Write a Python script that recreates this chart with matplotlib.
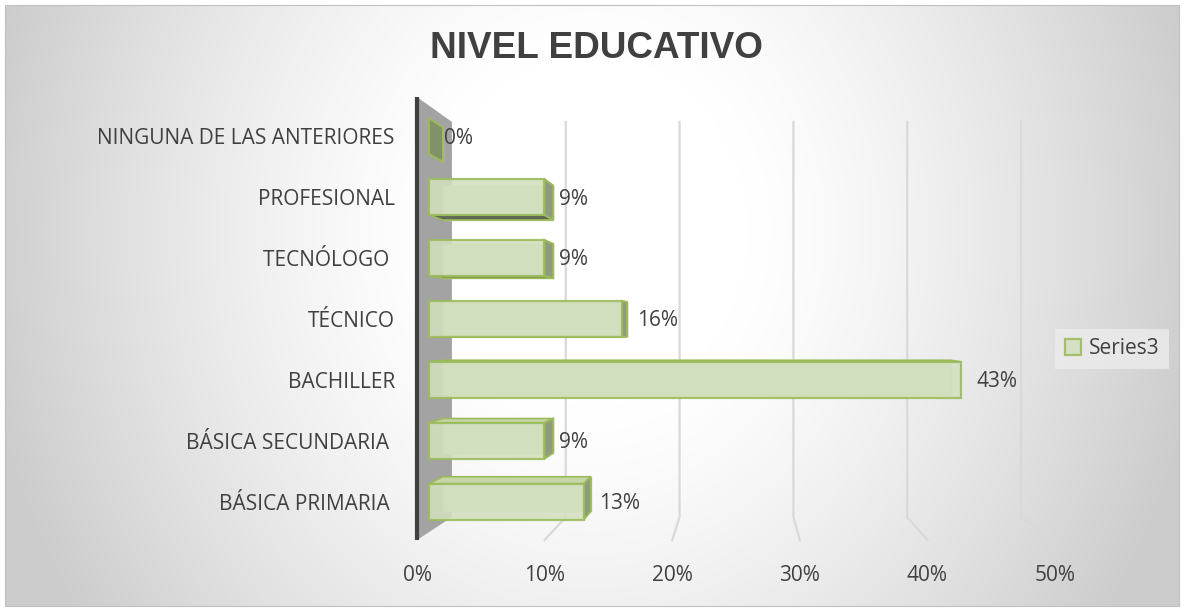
import numpy as np
import matplotlib
matplotlib.use("Agg")
import matplotlib.pyplot as plt
from matplotlib.patches import Polygon, Rectangle

plt.rcParams["font.family"] = ["Open Sans", "DejaVu Sans"]

# data (bottom -> top, as Excel draws a bar chart); bar lengths
categories = ["BÁSICA PRIMARIA ", "BÁSICA SECUNDARIA ", "BACHILLER", "TÉCNICO",
              "TECNÓLOGO ", "PROFESIONAL", "NINGUNA DE LAS ANTERIORES"]
values = [12.6, 9.4, 43.3, 15.7, 9.4, 9.4, 0]
value_labels = ["13%", "9%", "43%", "16%", "9%", "9%", "0%"]
xticks = [0, 10, 20, 30, 40, 50]
series_name = "Series3"
title = "NIVEL EDUCATIVO"

# fake 3D: perspective toward a vanishing point, s = depth fraction
VPX, VPY = 25.35, 3.35
S_F, S_B, S_WALL = 0.037, 0.080, 0.108
BAR_H = 0.59
TXT = "#404040"
GREEN = "#9bbb59"
FS = 15


def P(v, y, s):
    return (v + (VPX - v) * s, y + (VPY - y) * s)


W, H = 1184, 611
fig = plt.figure(figsize=(W / 100, H / 100), dpi=100)

# radial grey background
bg = fig.add_axes([0, 0, 1, 1])
yy, xx = np.mgrid[0:H, 0:W]
r = np.hypot((xx - 592) / 620, (yy - 230) / 700)
t = np.clip((r - 0.25) / 0.75, 0, 1)
c = 1 - 0.2 * t ** 1.3
c[(xx < 5) | (xx > 1179) | (yy < 5) | (yy > 606)] = 1
bg.imshow(np.dstack([c, c, c]), extent=(0, W, H, 0), aspect="auto")
bg.add_patch(Rectangle((5, 5), 1174, 601, fill=False, ec="#c0c0c0", lw=0.8))
bg.set_xlim(0, W); bg.set_ylim(H, 0); bg.axis("off")

ax = fig.add_axes([417 / W, 71 / H, 638 / W, 443 / H])
ax.set_xlim(0, 50); ax.set_ylim(0, 7)
ax.patch.set_alpha(0)
for sp in ax.spines.values():
    sp.set_visible(False)

# gridlines on back wall + floor
for v in xticks[1:]:
    pts = [P(v, 7, S_WALL), P(v, 0, S_WALL), P(v, 0, 0)]
    ax.plot([p[0] for p in pts], [p[1] for p in pts], color="#d9d9d9", lw=1.6,
            clip_on=False, zorder=1)

# side wall
ax.add_patch(Polygon([P(0, 0, 0), P(0, 7, 0), P(0, 7, S_WALL), P(0, 0, S_WALL)],
                     fc="#a3a3a3", ec="none", zorder=2, clip_on=False))
ax.plot([0, 0], [0, 7], color="#3f3f3f", lw=3, solid_capstyle="butt", zorder=3, clip_on=False)

# bars
ycs = np.arange(len(values)) + 0.5
for yc, v in zip(ycs, values):
    y0, y1 = yc - BAR_H / 2, yc + BAR_H / 2
    back = [P(0, y0, S_B), P(v, y0, S_B), P(v, y1, S_B), P(0, y1, S_B)]
    ax.add_patch(Polygon(back, fc="#cfdcba", ec="#b9cf96", lw=1, zorder=4, clip_on=False))
    if yc < VPY:
        yy_ = y1; fc = "#c6d6aa"
    else:
        yy_ = y0; fc = "#5f6655"
    ax.add_patch(Polygon([P(0, yy_, S_F), P(v, yy_, S_F), P(v, yy_, S_B), P(0, yy_, S_B)],
                         fc=fc, ec=GREEN, lw=1.2, zorder=5, clip_on=False))
    if v < VPX:
        ax.add_patch(Polygon([P(v, y0, S_F), P(v, y1, S_F), P(v, y1, S_B), P(v, y0, S_B)],
                             fc="#82916a" if v == 0 else "#8e9b7c", ec=GREEN, lw=1.4,
                             zorder=5, clip_on=False))

fy = [P(0, yc, S_F)[1] for yc in ycs]
bars = ax.barh(fy, [v * (1 - S_F) for v in values], height=BAR_H * (1 - S_F),
               left=VPX * S_F, color="#d3e0bf", alpha=0.88, edgecolor=GREEN, lw=1.6,
               zorder=6, label=series_name, clip_on=False)

for yc, v, lab in zip(ycs, values, value_labels):
    ax.annotate(lab, xy=P(v, yc, S_F), xytext=(10.8, -1.5), textcoords="offset points",
                ha="left", va="center", fontsize=FS, color=TXT, zorder=7)

ax.set_xticks(xticks)
ax.set_xticklabels([f"{x}%" for x in xticks])
ax.set_yticks(fy)
ax.set_yticklabels(categories)
ax.tick_params(axis="x", length=0, pad=18, labelsize=FS, labelcolor=TXT)
ax.tick_params(axis="y", length=0, pad=16, labelsize=FS, labelcolor=TXT)

fig.legend(handles=[bars], labels=[series_name], loc="center left",
           bbox_to_anchor=(1045 / W, 1 - 349 / H), frameon=True, facecolor="#ececec",
           edgecolor="none", framealpha=0.8, fancybox=False, handlelength=0.8,
           handleheight=0.8, handletextpad=0.35, borderpad=0.45, fontsize=FS,
           labelcolor=TXT)

fig.text(596 / W, 1 - 48 / H, title, ha="center", va="center", fontsize=26.6,
         fontweight="bold", family=["Liberation Sans", "DejaVu Sans"], color=TXT)

fig.savefig("out.png", dpi=100)
